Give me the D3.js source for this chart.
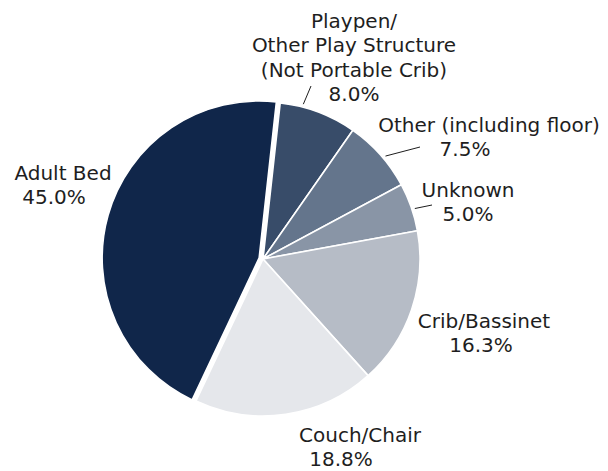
<!DOCTYPE html>
<html lang="en">
<head>
    <meta charset="UTF-8">
    <title>Sleep Location</title>
    <script src="https://d3js.org/d3.v7.min.js"></script>
    <style>
        body {
            margin: 0;
            padding: 0;
            background: #fff;
        }
        svg text {
            font-family: "DejaVu Sans", sans-serif;
            font-size: 20px;
            fill: #1e1e1e;
        }
    </style>
</head>
<body>
    <svg id="chart" width="608" height="471"></svg>

    <script>
        // data, clockwise from the top
        const categories = ["Playpen/\nOther Play Structure\n(Not Portable Crib)", "Other (including floor)", "Unknown", "Crib/Bassinet", "Couch/Chair", "Adult Bed"];
        const values = [8.0, 7.5, 5.0, 16.3, 18.8, 45.0];
        const colors = ["#384c69", "#64758c", "#8995a6", "#b6bcc6", "#e5e7eb", "#10264a"];

        // label placement (text centre x, first baseline y), leader fraction along slice
        const labelPos = [
            { x: 354, y: 28, dx2: 0, leader: 0.29, lx: 311, ly: 86 },
            { x: 489, y: 132, dx2: -24, leader: 0.56, lx: 420, ly: 147 },
            { x: 468, y: 197, dx2: 0, leader: 0.55, lx: 432, ly: 205 },
            { x: 484, y: 328, dx2: -3, leader: null },
            { x: 360, y: 442, dx2: -19, leader: null },
            { x: 63, y: 180, dx2: -9, leader: null }
        ];

        const cx = 263, cy = 259, radius = 157;
        const start = 6.3 * Math.PI / 180;
        const explodeIdx = 5, explode = 4;

        const svg = d3.select("#chart");
        const g = svg.append("g").attr("transform", `translate(${cx},${cy})`);

        const pie = d3.pie().sort(null).value(d => d)
            .startAngle(start).endAngle(start + 2 * Math.PI);
        const arcs = pie(values);
        const arc = d3.arc().innerRadius(0).outerRadius(radius);

        g.selectAll("path")
            .data(arcs)
            .enter().append("path")
            .attr("d", arc)
            .attr("fill", (d, i) => colors[i])
            .attr("stroke", "#fff")
            .attr("stroke-width", 1.6)
            .attr("stroke-linejoin", "round")
            .attr("transform", (d, i) => {
                if (i !== explodeIdx) return null;
                const [ox, oy] = d3.pointRadial((d.startAngle + d.endAngle) / 2, explode);
                return `translate(${ox},${oy})`;
            });

        // leader lines
        arcs.forEach((d, i) => {
            const p = labelPos[i];
            if (p.leader === null) return;
            const a = d.startAngle + p.leader * (d.endAngle - d.startAngle);
            const [sx, sy] = d3.pointRadial(a, radius + 3);
            svg.append("line")
                .attr("x1", cx + sx).attr("y1", cy + sy)
                .attr("x2", p.lx).attr("y2", p.ly)
                .attr("stroke", "#1e1e1e")
                .attr("stroke-width", 1);
        });

        // labels
        const lineH = 24.3;
        arcs.forEach((d, i) => {
            const p = labelPos[i];
            const lines = categories[i].split("\n").concat([values[i].toFixed(1) + "%"]);
            const t = svg.append("text").attr("text-anchor", "middle");
            lines.forEach((ln, k) => {
                const last = k === lines.length - 1;
                t.append("tspan")
                    .attr("x", p.x + (last ? p.dx2 : 0))
                    .attr("y", p.y + k * lineH)
                    .text(ln);
            });
        });
    </script>
</body>
</html>
